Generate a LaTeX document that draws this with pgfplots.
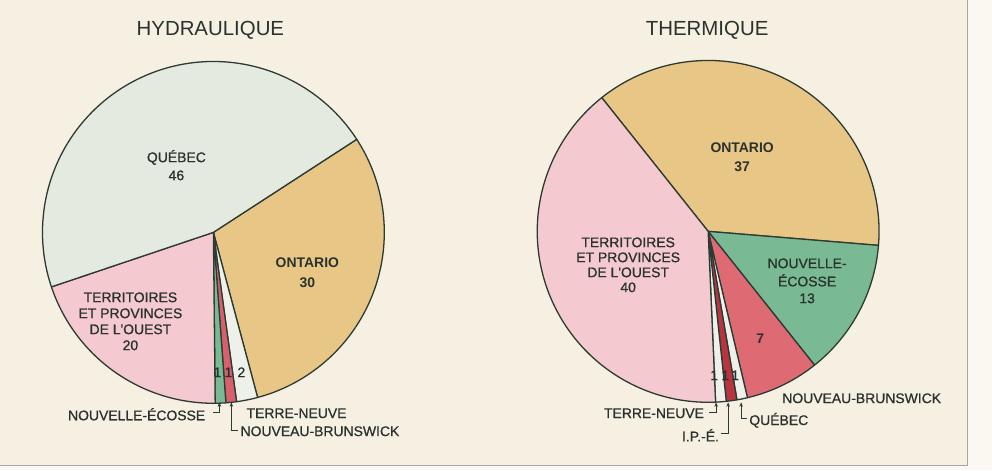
\documentclass[border=0pt]{standalone}
\usepackage{pgfplots}
\pgfplotsset{compat=1.18}
\usepackage{pgfplotstable}
\usepackage{fontspec}
\setmainfont{Liberation Sans}
\newfontfamily\medfont[FakeBold=0.8]{Liberation Sans}
\usetikzlibrary{arrows.meta}

\definecolor{bgpanel}{HTML}{F6F0E2}
\definecolor{bgout}{HTML}{FBF8F2}
\definecolor{cQue}{HTML}{E4EADF}
\definecolor{cOnt}{HTML}{E8C686}
\definecolor{cOue}{HTML}{F4C9CF}
\definecolor{cNE}{HTML}{79B993}
\definecolor{cNB}{HTML}{D8606C}
\definecolor{cNBt}{HTML}{DE6B74}
\definecolor{cIPE}{HTML}{B8343F}
\definecolor{cTN}{HTML}{EEF0EA}
\definecolor{edge}{HTML}{2D3A33}
\definecolor{txt}{HTML}{2A322D}

% Hydraulique, clockwise from the Quebec/Ontario boundary
\pgfplotstableread{
name value
Ontario 30
TerreNeuve 2
NouveauBrunswick 1
NouvelleEcosse 1
Ouest 20
Quebec 46
}\hydro

% Thermique, clockwise from the Ouest/Ontario boundary
\pgfplotstableread{
name value
Ontario 37
NouvelleEcosse 13
NouveauBrunswick 7
Quebec 1
IPE 1
TerreNeuve 1
Ouest 40
}\therm

\newcommand\cum[4]{%
  \pgfplotstablegetelem{#2}{value}\of#1%
  \pgfmathsetmacro\tmpang{#3-3.6*\pgfplotsretval}%
  \global\let#4\tmpang}

\def\hA{33}
\cum\hydro{0}\hA\hB
\cum\hydro{1}\hB\hC
\cum\hydro{2}\hC\hD
\cum\hydro{3}\hD\hE
\cum\hydro{4}\hE\hF
\cum\hydro{5}\hF\hG

\def\tA{128.5}
\cum\therm{0}\tA\tB
\cum\therm{1}\tB\tC
\cum\therm{2}\tC\tD
\cum\therm{3}\tD\tE
\cum\therm{4}\tE\tF
\cum\therm{5}\tF\tG
\cum\therm{6}\tG\tH

\newcommand\hwedge[3]{% from, to, colour
  \addplot[fill=#3, draw=edge, line width=1.3pt, line join=round, domain=#2:#1, samples=90, variable=\t]
    ({213+171*cos(t)},{238+171*sin(t)}) -- (213,238) -- cycle;}
\newcommand\twedge[3]{%
  \addplot[fill=#3, draw=edge, line width=1.3pt, line join=round, domain=#2:#1, samples=90, variable=\t]
    ({708+171*cos(t)},{239+171*sin(t)}) -- (708,239) -- cycle;}

\tikzset{
  lab/.style={text=txt, font=\medfont\fontsize{14}{15}\selectfont, inner sep=0pt},
  labb/.style={text=txt, font=\fontsize{14}{15}\selectfont\bfseries, inner sep=0pt},
  ttl/.style={text=txt, font=\fontsize{20.5}{22}\selectfont, inner sep=0pt},
  arr/.style={edge, line width=1pt, -{Stealth[length=4.5pt,width=3.5pt]}},
}

\begin{document}
\begin{tikzpicture}
\begin{axis}[
  width=992bp, height=470bp, scale only axis,
  xmin=0, xmax=992, ymin=0, ymax=470,
  hide axis, clip=false,
]
\fill[bgout] (0,0) rectangle (992,470);
\fill[bgpanel] (0,5) rectangle (967,470);
\draw[gray!70, line width=1pt] (0,5) -- (967,5) -- (967,470);

% Hydraulique
\hwedge{\hA}{\hB}{cOnt}
\hwedge{\hB}{\hC}{cTN}
\hwedge{\hC}{\hD}{cNB}
\hwedge{\hD}{\hE}{cNE}
\hwedge{\hE}{\hF}{cOue}
\hwedge{\hF}{\hG}{cQue}

% Thermique
\twedge{\tA}{\tB}{cOnt}
\twedge{\tB}{\tC}{cNE}
\twedge{\tC}{\tD}{cNBt}
\twedge{\tD}{\tE}{cTN}
\twedge{\tE}{\tF}{cIPE}
\twedge{\tF}{\tG}{cTN}
\twedge{\tG}{\tH}{cOue}

% titles
\node[ttl] at (210,440) {HYDRAULIQUE};
\node[ttl] at (707,440) {THERMIQUE};

% Hydraulique labels
\node[lab] at (176,313) {QUÉBEC};
\node[lab] at (176,295) {46};
\node[labb] at (307,208) {ONTARIO};
\node[labb] at (307,188) {30};
\node[lab] at (130,173) {TERRITOIRES};
\node[lab] at (130,157) {ET PROVINCES};
\node[lab] at (130,141) {DE L'OUEST};
\node[lab] at (130,125) {20};
\node[lab] at (217,98) {1};
\node[lab] at (228,98) {1};
\node[lab] at (241,98) {2};
\node[lab, anchor=east] at (205,56) {NOUVELLE-ÉCOSSE};
\node[lab, anchor=west] at (246,57) {TERRE-NEUVE};
\node[lab, anchor=west] at (240,39) {NOUVEAU-BRUNSWICK};
\draw[arr] (213,58) -- (219,58) -- (219,68);
\draw[arr] (238,40) -- (231,40) -- (231,68);

% Thermique labels
\node[labb] at (742,323) {ONTARIO};
\node[labb] at (742,304) {37};
\node[lab] at (628,228) {TERRITOIRES};
\node[lab] at (628,213) {ET PROVINCES};
\node[lab] at (628,198) {DE L'OUEST};
\node[lab] at (628,183) {40};
\node[lab] at (807,207) {NOUVELLE-};
\node[lab] at (807,190) {ÉCOSSE};
\node[lab] at (807,172) {13};
\node[labb] at (760,132) {7};
\node[lab] at (714,95) {1};
\node[lab] at (725,95) {1};
\node[lab] at (735,95) {1};
\node[lab, anchor=west] at (782,72) {NOUVEAU-BRUNSWICK};
\node[lab, anchor=east] at (704,57) {TERRE-NEUVE};
\node[lab, anchor=east] at (719,35) {I.P.-É.};
\node[lab, anchor=west] at (749,50) {QUÉBEC};
\draw[arr] (709,58) -- (716,58) -- (716,68);
\draw[arr] (721,37) -- (728,37) -- (728,68);
\draw[arr] (747,52) -- (741,52) -- (741,68);
\end{axis}
\end{tikzpicture}
\end{document}
